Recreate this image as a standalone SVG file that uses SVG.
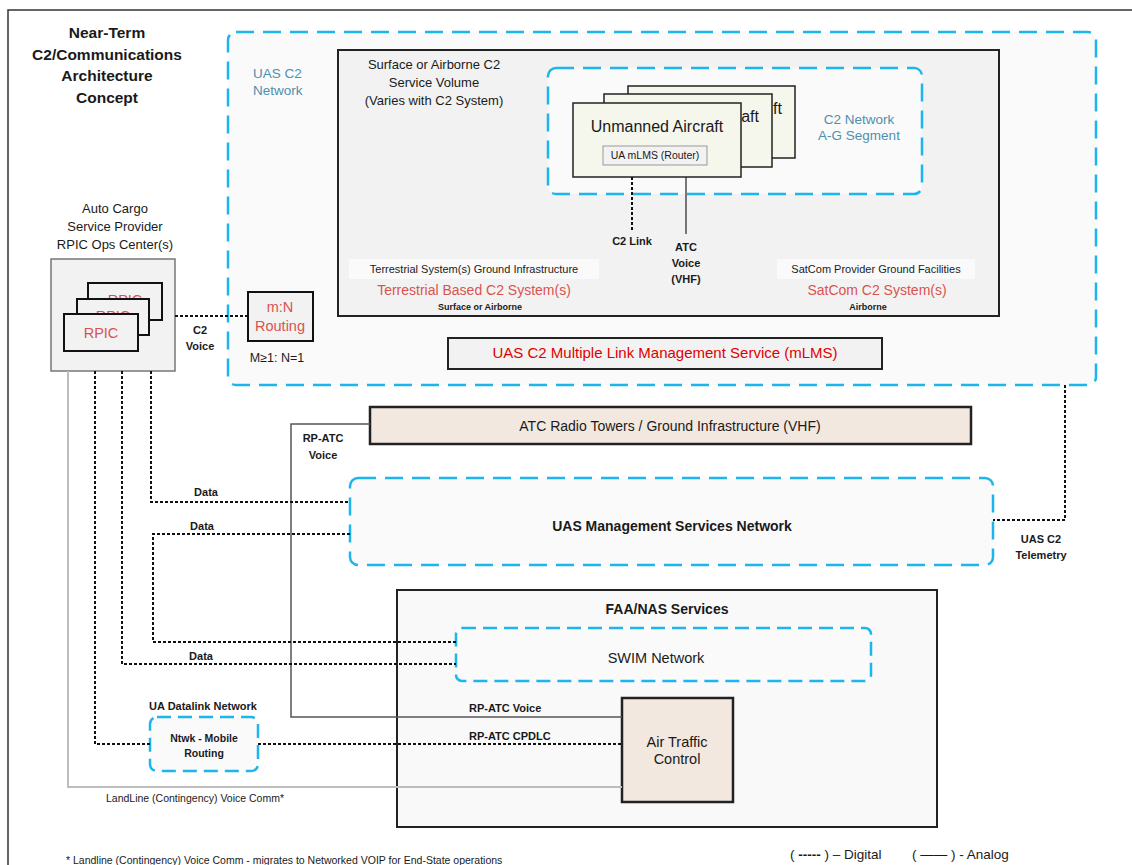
<svg xmlns="http://www.w3.org/2000/svg" width="1132" height="865" viewBox="0 0 1132 865">
<defs>
<style>
text{font-family:"Liberation Sans",Arial,sans-serif;fill:#1a1a1a}
.c{text-anchor:middle}
.e{text-anchor:end}
.b{font-weight:bold}
.teal{fill:#4f8fb0}
.red{fill:#d9534f}
.dred{fill:#e00000}
.bdash{fill:#fafafa;stroke:#1cb5ee;stroke-width:2.5;stroke-dasharray:18 9}
.bdash2{fill:#fafafa;stroke:#1cb5ee;stroke-width:2.5;stroke-dasharray:14 7}
.dot{fill:none;stroke:#111;stroke-width:2;stroke-dasharray:3 2}
.solid{fill:none;stroke:#555;stroke-width:1.5}
.gray{fill:none;stroke:#bdbdbd;stroke-width:2}
.card{fill:#f2f2f2;stroke:#111;stroke-width:2}
.ua{fill:#f5f7ec;stroke:#222;stroke-width:1.5}
.beige{fill:#f2e8df;stroke:#222;stroke-width:2.5}
</style>
</defs>
<rect x="0" y="0" width="1132" height="865" fill="#ffffff"/>
<rect x="8" y="10" width="1130" height="870" fill="#ffffff" stroke="#333" stroke-width="1.5"/>

<g id="title">
<text class="c b" x="107" y="38" font-size="15.5">Near-Term</text>
<text class="c b" x="107" y="60" font-size="15.5">C2/Communications</text>
<text class="c b" x="107" y="81" font-size="15.5">Architecture</text>
<text class="c b" x="107" y="103" font-size="15.5">Concept</text>
</g>

<g id="uas-c2-network">
<rect class="bdash" x="228" y="32" width="868" height="353" rx="8" stroke-dasharray="20 10"/>
<text class="teal" x="253" y="78" font-size="13.5">UAS C2</text>
<text class="teal" x="253" y="95" font-size="13.5">Network</text>
</g>

<g id="service-volume">
<rect x="338" y="50" width="661" height="266" fill="#f2f2f2" stroke="#222" stroke-width="2"/>
<text class="c" x="434" y="69" font-size="13">Surface or Airborne C2</text>
<text class="c" x="434" y="87" font-size="13">Service Volume</text>
<text class="c" x="434" y="105" font-size="13">(Varies with C2 System)</text>
</g>

<g id="ag-segment">
<rect class="bdash" x="548" y="68" width="374" height="126" rx="8" fill="#f2f2f2" stroke-dasharray="17 9"/>
<text class="c teal" x="859" y="124" font-size="13.5">C2 Network</text>
<text class="c teal" x="859" y="140" font-size="13.5">A-G Segment</text>
</g>

<g id="unmanned-aircraft">
<rect class="ua" x="628" y="86" width="167" height="72"/>
<text class="e" x="782" y="114" font-size="16">ft</text>
<rect class="ua" x="604" y="94" width="168" height="73"/>
<text class="e" x="759" y="122" font-size="16">aft</text>
<rect class="ua" x="573" y="103" width="168" height="74"/>
<text class="c" x="657" y="132" font-size="16">Unmanned Aircraft</text>
<rect x="603" y="146" width="104" height="19" fill="#f2f2f2" stroke="#999" stroke-width="1"/>
<text class="c" x="655" y="159" font-size="10.5">UA mLMS (Router)</text>
</g>

<g id="terrestrial">
<rect x="349" y="259" width="250" height="20" fill="#fafafa"/>
<text class="c" x="474" y="273" font-size="11">Terrestrial System(s) Ground Infrastructure</text>
<text class="c red" x="474" y="295" font-size="14">Terrestrial Based C2 System(s)</text>
<text class="c b" x="480" y="310" font-size="9">Surface or Airborne</text>
</g>

<g id="satcom">
<rect x="777" y="259" width="198" height="20" fill="#fafafa"/>
<text class="c" x="876" y="273" font-size="11">SatCom Provider Ground Facilities</text>
<text class="c red" x="877" y="295" font-size="14">SatCom C2 System(s)</text>
<text class="c b" x="868" y="310" font-size="9">Airborne</text>
</g>

<g id="mlms">
<rect x="448" y="338" width="434" height="31" fill="#f2f2f2" stroke="#222" stroke-width="2"/>
<text class="c dred" x="665" y="358" font-size="15">UAS C2 Multiple Link Management Service (mLMS)</text>
</g>

<g id="rpic-ops">
<text class="c" x="115" y="213" font-size="13">Auto Cargo</text>
<text class="c" x="115" y="231" font-size="13">Service Provider</text>
<text class="c" x="115" y="249" font-size="13">RPIC Ops Center(s)</text>
<rect x="51" y="259" width="124" height="112" fill="#f2f2f2" stroke="#777" stroke-width="1.5"/>
<rect class="card" x="88" y="283" width="74" height="37"/>
<text class="c red" x="125" y="305" font-size="14.5">RPIC</text>
<rect class="card" x="77" y="299" width="72" height="36"/>
<text class="c red" x="113" y="321" font-size="14.5">RPIC</text>
<rect class="card" x="64" y="314" width="74" height="37"/>
<text class="c red" x="101" y="338" font-size="14.5">RPIC</text>
</g>

<g id="mn-routing">
<rect class="card" x="248" y="292" width="65" height="49"/>
<text class="c red" x="280" y="312" font-size="14.5">m:N</text>
<text class="c red" x="280" y="331" font-size="14.5">Routing</text>
<text class="c" x="277" y="362" font-size="12.5">M≥1: N=1</text>
</g>

<g id="atc-radio">
<rect class="beige" x="370" y="407" width="601" height="37"/>
<text class="c" x="670" y="431" font-size="14">ATC Radio Towers / Ground Infrastructure (VHF)</text>
</g>

<g id="uas-msn">
<rect class="bdash" x="350" y="478" width="643" height="87" rx="8"/>
<text class="c b" x="672" y="531" font-size="14">UAS Management Services Network</text>
</g>

<g id="faa-nas">
<rect x="397" y="590" width="540" height="237" fill="#f9f9f9" stroke="#222" stroke-width="2"/>
<text class="c b" x="667" y="614" font-size="14">FAA/NAS Services</text>
</g>

<g id="swim">
<rect class="bdash2" x="456" y="628" width="415" height="53" rx="6"/>
<text class="c" x="656" y="663" font-size="14.5">SWIM Network</text>
</g>

<g id="atc">
<rect class="beige" x="622" y="698" width="111" height="104"/>
<text class="c" x="677" y="747" font-size="14.5">Air Traffic</text>
<text class="c" x="677" y="764" font-size="14.5">Control</text>
</g>

<g id="ua-datalink">
<text class="c b" x="203" y="710" font-size="11">UA Datalink Network</text>
<rect class="bdash2" x="150" y="717" width="108" height="54" rx="7" fill="#f5f5f5" stroke-dasharray="13 7"/>
<text class="c b" x="204" y="742" font-size="10.5">Ntwk - Mobile</text>
<text class="c b" x="204" y="757" font-size="10.5">Routing</text>
</g>

<g id="connectors">
<line class="dot" x1="632" y1="177" x2="632" y2="230"/>
<line x1="686" y1="177" x2="686" y2="234" stroke="#222" stroke-width="1.2"/>
<line class="dot" x1="175" y1="316" x2="248" y2="316"/>
<polyline class="solid" points="370,424 291,424 291,717 622,717"/>
<polyline class="dot" points="151,371 151,502 350,502"/>
<polyline class="dot" points="350,534 153,534 153,642 456,642"/>
<polyline class="dot" points="122,371 122,664 456,664"/>
<polyline class="dot" points="95,371 95,744 150,744"/>
<line class="dot" x1="258" y1="744" x2="622" y2="744"/>
<polyline class="gray" points="68,371 68,787 622,787"/>
<polyline class="dot" points="1065,385 1065,520 993,520"/>
</g>

<g id="labels">
<text class="c b" x="632" y="245" font-size="11">C2 Link</text>
<text class="c b" x="686" y="251" font-size="11">ATC</text>
<text class="c b" x="686" y="267" font-size="11">Voice</text>
<text class="c b" x="686" y="283" font-size="11">(VHF)</text>
<text class="c b" x="200" y="334" font-size="11">C2</text>
<text class="c b" x="200" y="350" font-size="11">Voice</text>
<text class="c b" x="323" y="442" font-size="11">RP-ATC</text>
<text class="c b" x="323" y="459" font-size="11">Voice</text>
<text class="c b" x="206" y="496" font-size="11">Data</text>
<text class="c b" x="202" y="530" font-size="11">Data</text>
<text class="c b" x="201" y="660" font-size="11">Data</text>
<text class="b" x="469" y="712" font-size="11">RP-ATC Voice</text>
<text class="b" x="469" y="740" font-size="11">RP-ATC CPDLC</text>
<text class="c b" x="1041" y="543" font-size="11">UAS C2</text>
<text class="c b" x="1041" y="559" font-size="11">Telemetry</text>
<text class="c" x="195" y="802" font-size="10.5">LandLine (Contingency) Voice Comm*</text>
<text x="66" y="864" font-size="10.5">* Landline (Contingency) Voice Comm - migrates to Networked VOIP for End-State operations</text>
<text x="790" y="859" font-size="13.5">( <tspan font-weight="bold">-----</tspan> ) – Digital</text>
<text x="912" y="859" font-size="13.5">( —— ) - Analog</text>
</g>
</svg>
